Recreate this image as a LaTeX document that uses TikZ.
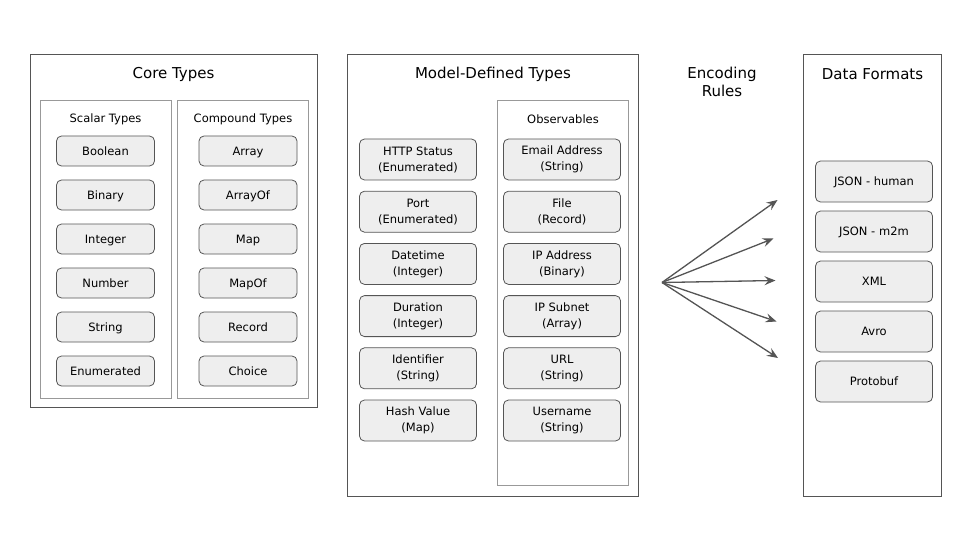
\documentclass[tikz,border=0pt]{standalone}
\usepackage{fontspec}
\setmainfont{DejaVu Sans}
\usetikzlibrary{arrows.meta}
\definecolor{boxline}{HTML}{555555}
\definecolor{subline}{HTML}{999999}
\definecolor{typefill}{HTML}{EEEEEE}
\tikzset{
	typebox/.style={draw=boxline, fill=typefill, rounded corners=5pt, inner sep=0pt,
		line width=0.8pt, minimum width=98pt, minimum height=30pt, align=center,
		font=\fontsize{11.5}{16}\selectfont},
	corebox/.style={typebox, text height=8.4pt, text depth=0pt},
	modelbox/.style={typebox, minimum width=117pt, minimum height=41pt},
	formatbox/.style={modelbox, text height=8.4pt, text depth=0pt},
	title/.style={font=\fontsize{15}{18}\selectfont, align=center},
	subtitle/.style={font=\fontsize{11.5}{14}\selectfont},
	group/.style={draw=boxline, line width=1pt},
	subgroup/.style={draw=subline, line width=1pt},
}

\begin{document}
\begin{tikzpicture}[>={Stealth[length=11pt,width=9pt,inset=4pt]}, x=1pt, y=-1pt]
		\useasboundingbox (0,0) rectangle (960,540);
		% Core Types
		\draw [group] (30.5,54.5) rectangle (317,407);
		\node [title] (core) at (173.5,74) {Core Types};
		\draw [subgroup] (40,101) rectangle (171.5,398);
		\node [subtitle] (scalar) at (105.5,119) {Scalar Types};
		\draw [subgroup] (177,101) rectangle (308,398);
		\node [subtitle] (compound) at (243,119) {Compound Types};
		\foreach \name [count=\i] in {Boolean,Binary,Integer,Number,String,Enumerated}
			\node [corebox] (sc\i) at (105.5,{107+44*\i}) {\name};
		\foreach \name [count=\i] in {Array,ArrayOf,Map,MapOf,Record,Choice}
			\node [corebox] (cp\i) at (248,{107+44*\i}) {\name};
		
		% Model-Defined Types
		\draw [group] (347.5,54.5) rectangle (638.5,496);
		\node [title] (model) at (493,74) {Model-Defined Types};
		\draw [subgroup] (497.5,101) rectangle (628.5,485);
		\node [subtitle] (observ) at (563,119) {Observables};
		\foreach \name/\base [count=\i] in {HTTP Status/Enumerated,Port/Enumerated,Datetime/Integer,Duration/Integer,Identifier/String,Hash Value/Map}
			\node [modelbox] (md\i) at (418,{107.3+52.2*\i}) {\name\\(\base)};
		\foreach \name/\base [count=\i] in {Email Address/String,File/Record,IP Address/Binary,IP Subnet/Array,URL/String,Username/String}
			\node [modelbox] (ob\i) at (562,{107.3+52.2*\i}) {\name\\(\base)};
		
		% Encoding Rules
		\node [title] (enc) at (722,82) {Encoding\\Rules};
		\coordinate (src) at (662,282.5);
		\coordinate (t1) at (777.5,200);
		\coordinate (t2) at (773.5,238.5);
		\coordinate (t3) at (775.5,280.5);
		\coordinate (t4) at (776.5,321.5);
		\coordinate (t5) at (778,358);
		\foreach \t in {t1,t2,t3,t4,t5}
			\draw [->, draw=boxline, fill=boxline, line width=1.3pt] (src) -- (\t);
		
		% Data Formats
		\draw [group] (803.5,54.5) rectangle (941.5,496);
		\node [title] (formats) at (872.5,74) {Data Formats};
		\foreach \name [count=\i] in {JSON - human,JSON - m2m,XML,Avro,Protobuf}
			\node [formatbox] (df\i) at (874,{131.5+50*\i}) {\name};
	\end{tikzpicture}
\end{document}
